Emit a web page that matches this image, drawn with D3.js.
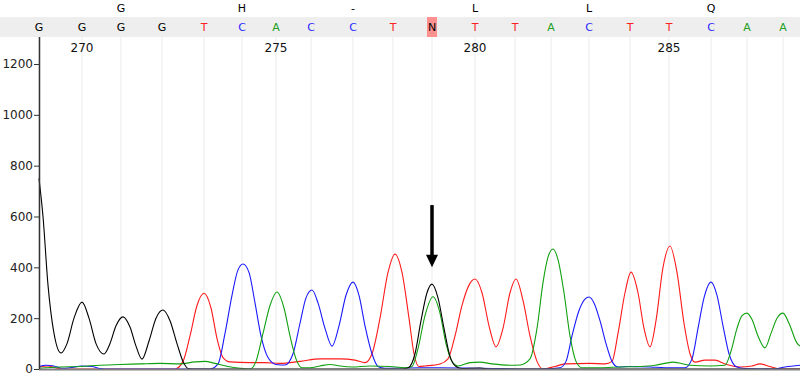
<!DOCTYPE html>
<html>

<head>
  <meta charset="utf-8" />
  <title>Trace</title>
  <style>
    body {
      margin: 0;
      background: #fff;
    }

    svg {
      display: block;
      font-family: "DejaVu Sans", sans-serif;
    }

    .trace {
      fill: none;
      stroke-width: 1.1px;
    }
  </style>
  <script src="https://cdnjs.cloudflare.com/ajax/libs/d3/7.8.5/d3.min.js"></script>
</head>

<body>
  <div id="chartArea"></div>
  <script>
    // base calls and where their peaks sit (scan numbers)
    var bases = ['G', 'G', 'G', 'G', 'T', 'C', 'A', 'C', 'C', 'T', 'N', 'T', 'T', 'A', 'C', 'T', 'T', 'C', 'A', 'A'];
    var peakScans = [3039, 3082, 3121, 3162, 3204, 3242, 3276, 3311, 3353, 3393, 3432, 3475, 3515, 3551, 3589, 3630, 3669, 3711, 3747, 3783];
    var firstPosition = 269;
    var aminoAcids = ['G', 'H', '-', 'L', 'L', 'Q'];
    var yTicks = [0, 200, 400, 600, 800, 1000, 1200];

    // [scan, signal]
    var traceG = [[3039, 750], [3043, 600], [3048, 330], [3054, 140], [3061, 63], [3067, 100], [3074, 200], [3082, 263], [3089, 200], [3096, 100], [3104, 59], [3110, 100], [3116, 170], [3123, 205], [3130, 165], [3136, 90], [3142, 39], [3149, 110], [3156, 200], [3163, 232], [3170, 190], [3177, 100], [3183, 30], [3188, 2], [3195, 0], [3400, 0], [3408, 4], [3415, 60], [3421, 190], [3427, 300], [3432, 334], [3438, 280], [3444, 160], [3450, 50], [3456, 10], [3462, 2], [3480, 4], [3490, 0], [3800, 0]];
    var traceT = [[3039, 8], [3048, 12], [3056, 4], [3062, 0], [3175, 0], [3183, 30], [3190, 130], [3197, 250], [3204, 298], [3211, 240], [3217, 120], [3223, 45], [3230, 28], [3250, 25], [3265, 25], [3280, 22], [3300, 30], [3320, 40], [3340, 40], [3355, 35], [3365, 25], [3372, 60], [3380, 200], [3388, 380], [3395, 452], [3402, 380], [3409, 200], [3414, 60], [3419, 10], [3425, 12], [3440, 20], [3448, 40], [3455, 130], [3462, 250], [3469, 330], [3475, 354], [3482, 300], [3489, 170], [3496, 87], [3503, 160], [3510, 300], [3516, 354], [3523, 270], [3530, 130], [3537, 30], [3543, 0], [3555, 10], [3565, 20], [3590, 22], [3605, 20], [3612, 30], [3618, 140], [3625, 300], [3631, 381], [3638, 300], [3644, 160], [3650, 87], [3656, 190], [3663, 400], [3670, 484], [3677, 380], [3684, 180], [3690, 60], [3695, 27], [3705, 35], [3715, 35], [3725, 20], [3740, 8], [3752, 12], [3760, 20], [3770, 10], [3780, 0], [3800, 0]];
    var traceC = [[3039, 10], [3046, 15], [3054, 12], [3062, 3], [3070, 5], [3082, 12], [3092, 10], [3100, 2], [3110, 0], [3210, 0], [3218, 20], [3225, 140], [3232, 290], [3238, 390], [3243, 413], [3249, 380], [3255, 260], [3261, 130], [3268, 45], [3276, 18], [3285, 16], [3293, 60], [3300, 180], [3306, 280], [3312, 311], [3318, 260], [3325, 160], [3332, 90], [3339, 170], [3346, 290], [3353, 342], [3359, 290], [3365, 170], [3372, 60], [3378, 10], [3385, 3], [3420, 5], [3440, 5], [3480, 3], [3540, 0], [3560, 5], [3566, 30], [3572, 130], [3579, 230], [3585, 275], [3589, 283], [3594, 260], [3600, 190], [3606, 100], [3612, 30], [3618, 8], [3630, 10], [3650, 8], [3665, 5], [3685, 5], [3692, 40], [3698, 160], [3704, 280], [3711, 342], [3717, 290], [3723, 170], [3729, 60], [3736, 10], [3745, 2], [3775, 0], [3785, 8], [3800, 15]];
    var traceA = [[3039, 3], [3060, 8], [3080, 10], [3100, 15], [3120, 18], [3140, 20], [3160, 22], [3180, 20], [3195, 28], [3205, 30], [3215, 22], [3228, 10], [3240, 3], [3250, 0], [3256, 30], [3263, 140], [3270, 250], [3277, 303], [3284, 240], [3290, 130], [3296, 40], [3302, 5], [3310, 5], [3320, 12], [3330, 18], [3340, 12], [3352, 8], [3370, 12], [3390, 10], [3405, 5], [3412, 10], [3418, 80], [3425, 210], [3433, 284], [3440, 220], [3446, 100], [3452, 30], [3458, 12], [3470, 25], [3480, 27], [3492, 20], [3510, 15], [3520, 16], [3530, 40], [3537, 160], [3543, 340], [3548, 440], [3553, 472], [3558, 430], [3564, 300], [3570, 130], [3576, 30], [3582, 5], [3600, 5], [3620, 8], [3640, 10], [3655, 15], [3665, 22], [3673, 27], [3690, 15], [3710, 12], [3725, 15], [3731, 70], [3737, 160], [3742, 210], [3747, 220], [3752, 195], [3758, 130], [3765, 83], [3771, 140], [3777, 200], [3783, 220], [3789, 180], [3797, 102], [3800, 90]];

    var colors = { G: '#000000', A: '#22a022', T: '#ff2020', C: '#2a2aff', N: '#000000' };
    var traceColors = { G: '#000000', A: '#10a010', T: '#ff1a1a', C: '#1a1aff' };

    var W = 800, H = 377;
    var svg = d3.select('#chartArea')
      .append('svg')
      .attr('width', W)
      .attr('height', H);

    var x = d3.scaleLinear()
      .domain([3039, 3800])
      .range([39, 800]);

    var y = d3.scaleLinear()
      .domain([0, 1200])
      .range([369, 64]);

    // base call strip
    svg.append('rect')
      .attr('x', 0)
      .attr('y', 17)
      .attr('width', W)
      .attr('height', 20)
      .attr('fill', '#eeeeee');

    // highlight ambiguous call
    bases.forEach((b, i) => {
      if (b === 'N') {
        svg.append('rect')
          .attr('x', x(peakScans[i]) - 5)
          .attr('y', 17)
          .attr('width', 10)
          .attr('height', 20)
          .attr('fill', '#ff9090');
      }
    });

    svg.selectAll('.base')
      .data(bases)
      .enter()
      .append('text')
      .attr('class', 'base')
      .attr('x', (d, i) => x(peakScans[i]))
      .attr('y', 31)
      .attr('text-anchor', 'middle')
      .attr('font-size', 11)
      .attr('fill', d => colors[d])
      .text(d => d);

    // amino acids centred on the middle base of each codon
    svg.selectAll('.aa')
      .data(aminoAcids)
      .enter()
      .append('text')
      .attr('class', 'aa')
      .attr('x', (d, i) => x(peakScans[i * 3 + 2]))
      .attr('y', 12)
      .attr('text-anchor', 'middle')
      .attr('font-size', 11)
      .attr('fill', '#000')
      .text(d => d);

    // gridlines at every called base
    svg.selectAll('.grid')
      .data(peakScans)
      .enter()
      .append('line')
      .attr('class', 'grid')
      .attr('x1', d => x(d))
      .attr('x2', d => x(d))
      .attr('y1', 37)
      .attr('y2', y(0))
      .attr('stroke', '#ebebeb')
      .attr('stroke-width', 1);

    // position numbers every 5 bases
    svg.selectAll('.pos')
      .data(peakScans.filter((d, i) => (firstPosition + i) % 5 === 0))
      .enter()
      .append('text')
      .attr('class', 'pos')
      .attr('x', d => x(d))
      .attr('y', 52)
      .attr('text-anchor', 'middle')
      .attr('font-size', 12)
      .attr('fill', '#111')
      .text(d => firstPosition + peakScans.indexOf(d));

    // traces
    var line = d3.line()
      .x(d => x(d[0]))
      .y(d => y(d[1]))
      .curve(d3.curveMonotoneX);

    [['T', traceT], ['C', traceC], ['A', traceA], ['G', traceG]].forEach(t => {
      svg.append('path')
        .datum(t[1])
        .attr('class', 'trace')
        .attr('stroke', traceColors[t[0]])
        .attr('d', line);
    });

    // axes
    svg.append('line')
      .attr('x1', x(3039))
      .attr('x2', W)
      .attr('y1', y(0) + 0.5)
      .attr('y2', y(0) + 0.5)
      .attr('stroke', '#808080')
      .attr('stroke-width', 2);

    var yAxis = svg.append('g')
      .attr('transform', 'translate(' + x(3039) + ',0)')
      .call(d3.axisLeft(y).tickValues(yTicks).tickFormat(d3.format('d')).tickSize(5).tickSizeOuter(0));

    yAxis.select('.domain')
      .attr('d', 'M0.5,37V' + y(0))
      .attr('stroke', '#333')
      .attr('stroke-width', 1.5);
    yAxis.selectAll('.tick line').attr('stroke', '#333');
    yAxis.selectAll('.tick text')
      .attr('font-family', '"DejaVu Sans", sans-serif')
      .attr('font-size', 12)
      .attr('fill', '#222')
      .attr('x', -6);

    // arrow pointing at the mixed peak
    var ax = x(peakScans[bases.indexOf('N')]);
    svg.append('line')
      .attr('x1', ax)
      .attr('x2', ax)
      .attr('y1', y(645))
      .attr('y2', y(440))
      .attr('stroke', '#000')
      .attr('stroke-width', 3.5);
    svg.append('path')
      .attr('d', 'M' + (ax - 6) + ',' + y(450) + 'L' + (ax + 6) + ',' + y(450) + 'L' + ax + ',' + y(400) + 'Z')
      .attr('fill', '#000');
  </script>
</body>

</html>
